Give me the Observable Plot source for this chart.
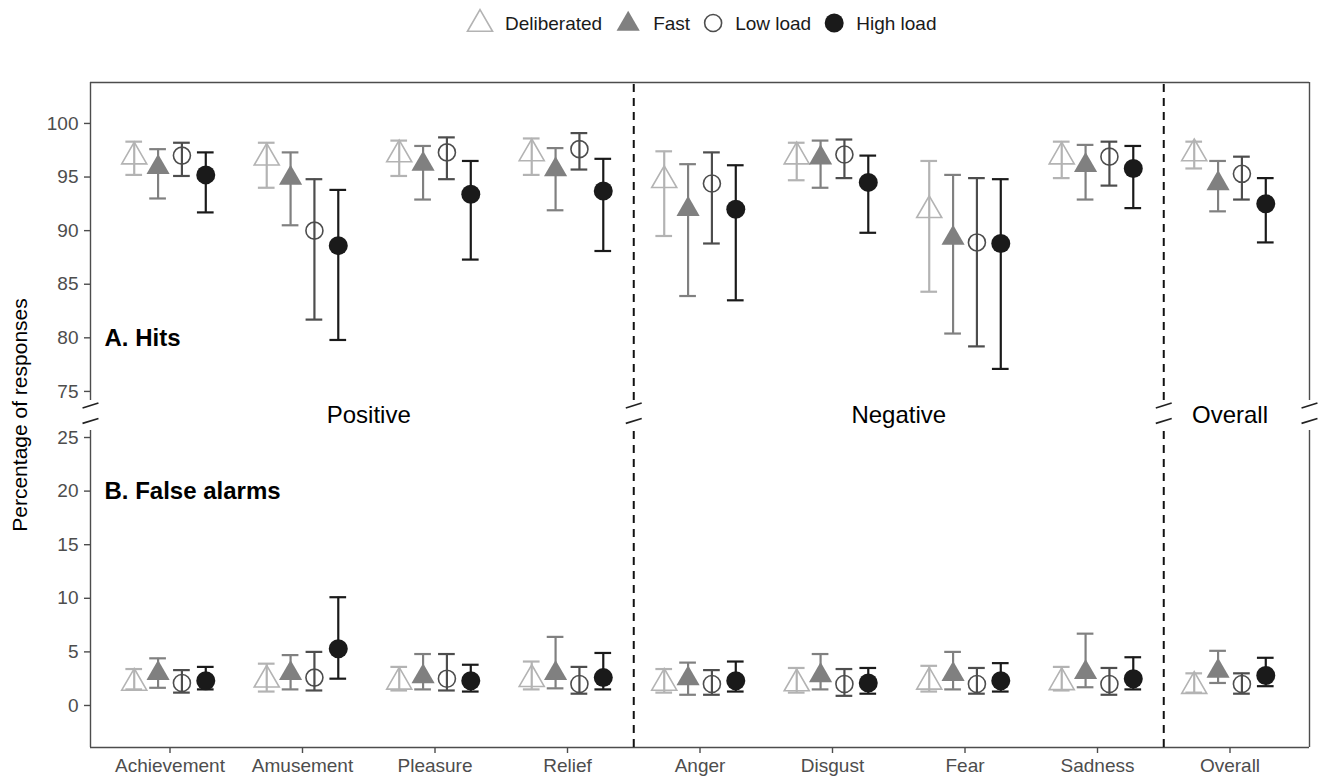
<!DOCTYPE html>
<html><head><meta charset="utf-8">
<script src="https://cdn.jsdelivr.net/npm/d3@7"></script>
<script src="https://cdn.jsdelivr.net/npm/@observablehq/plot@0.6"></script>
<style>
body{margin:0;background:#fff;font-family:"Liberation Sans",Arial,Helvetica,sans-serif;}
#wrap{position:relative;width:1324px;height:780px;overflow:hidden;}
#legend{position:absolute;left:0;top:0;}
#chart{position:absolute;left:0;top:45px;}
</style>
</head><body>
<div id="wrap"><div id="legend"></div><div id="chart"></div></div>
<script>
// ---------- data ----------
const categories = ["Achievement","Amusement","Pleasure","Relief","Anger","Disgust","Fear","Sadness","Overall"];
const categoryGroup = ["Positive","Positive","Positive","Positive","Negative","Negative","Negative","Negative","Overall"];
const seriesNames = ["Deliberated","Fast","Low load","High load"];
const seriesColors = ["#b3b3b3","#808080","#4d4d4d","#1a1a1a"];
const seriesSymbols = ["triangle","triangle","circle","circle"];
const seriesFilled = [false,true,false,true];

// A. Hits: [mean, lower, upper] per category
const hitsDeliberated = [[96.9,95.2,98.3],[96.8,94.0,98.2],[97.1,95.1,98.4],[97.2,95.2,98.6],[94.7,89.5,97.4],[96.9,94.7,98.2],[91.9,84.3,96.5],[96.9,94.9,98.3],[97.2,95.8,98.3]];
const hitsFast        = [[95.9,93.0,97.6],[94.9,90.5,97.3],[96.2,92.9,97.9],[95.7,91.9,97.7],[92.0,83.9,96.2],[96.8,94.0,98.4],[89.3,80.4,95.2],[96.1,92.9,98.0],[94.4,91.8,96.5]];
const hitsLowLoad     = [[97.0,95.1,98.2],[90.0,81.7,94.8],[97.3,94.8,98.7],[97.6,95.7,99.1],[94.4,88.8,97.3],[97.1,94.9,98.5],[88.9,79.2,94.9],[96.9,94.2,98.3],[95.3,92.9,96.9]];
const hitsHighLoad    = [[95.2,91.7,97.3],[88.6,79.8,93.8],[93.4,87.3,96.5],[93.7,88.1,96.7],[92.0,83.5,96.1],[94.5,89.8,97.0],[88.8,77.1,94.8],[95.8,92.1,97.9],[92.5,88.9,94.9]];

// B. False alarms: [mean, lower, upper] per category
const faDeliberated = [[2.1,1.5,3.4],[2.4,1.3,3.9],[2.2,1.4,3.6],[2.45,1.5,4.1],[2.1,1.2,3.4],[2.05,1.2,3.5],[2.2,1.3,3.7],[2.15,1.4,3.6],[1.8,1.2,3.0]];
const faFast        = [[3.0,1.65,4.4],[3.0,1.5,4.7],[2.7,1.5,4.8],[3.0,1.6,6.4],[2.5,1.0,4.0],[2.8,1.5,4.8],[2.9,1.5,5.0],[3.1,1.7,6.7],[3.2,2.1,5.1]];
const faLowLoad     = [[2.1,1.2,3.3],[2.6,1.4,5.0],[2.5,1.4,4.8],[2.0,1.1,3.6],[2.0,1.0,3.3],[2.0,0.9,3.4],[2.0,1.1,3.5],[2.0,1.0,3.5],[2.0,1.1,3.0]];
const faHighLoad    = [[2.3,1.5,3.6],[5.3,2.5,10.1],[2.3,1.3,3.8],[2.6,1.5,4.9],[2.3,1.3,4.1],[2.1,1.1,3.5],[2.3,1.3,3.95],[2.5,1.5,4.5],[2.8,1.8,4.45]];

const hitsTicks = [75,80,85,90,95,100];
const faTicks = [0,5,10,15,20,25];
const panelTitles = ["A. Hits","B. False alarms"];

// ---------- broken-axis layout ----------
const gap = 4.3;                         // visual gap between the two panels (in axis units)
const hitsShift = hitsTicks[0] - faTicks[faTicks.length-1] - gap; // hits value -> shared axis
const toHits = v => v - hitsShift;
const yMin = -3.92, yMax = toHits(103.82);
const gapTop = 28.45, gapBottom = 25.65;
const xMin = -0.6, xMax = categories.length - 1 + 0.6;
const dodge = s => (s - 1.5) * 0.18;
const capHalf = 0.063;

const hitsSeries = [hitsDeliberated, hitsFast, hitsLowLoad, hitsHighLoad];
const faSeries = [faDeliberated, faFast, faLowLoad, faHighLoad];

function rowsFor(s) {
  const out = [];
  hitsSeries[s].forEach(([m,lo,hi], i) => out.push({x: i + dodge(s), y: toHits(m), lo: toHits(lo), hi: toHits(hi)}));
  faSeries[s].forEach(([m,lo,hi], i) => out.push({x: i + dodge(s), y: m, lo, hi}));
  return out;
}

const marks = [];

// frame
marks.push(Plot.ruleY([yMax], {x1: xMin, x2: xMax, stroke: "#4d4d4d", strokeWidth: 1.4}));
marks.push(Plot.ruleY([yMin], {x1: xMin, x2: xMax, stroke: "#4d4d4d", strokeWidth: 1.4}));
marks.push(Plot.ruleX([xMin, xMax], {y1: gapTop, y2: yMax, stroke: "#4d4d4d", strokeWidth: 1.4}));
marks.push(Plot.ruleX([xMin, xMax], {y1: yMin, y2: gapBottom, stroke: "#4d4d4d", strokeWidth: 1.4}));

// group dividers
const dividers = [];
for (let i = 1; i < categories.length; i++) if (categoryGroup[i] !== categoryGroup[i-1]) dividers.push(i - 0.5);
marks.push(Plot.ruleX(dividers, {y1: gapTop, y2: yMax, stroke: "#111", strokeWidth: 2, strokeDasharray: "8,6"}));
marks.push(Plot.ruleX(dividers, {y1: yMin, y2: gapBottom, stroke: "#111", strokeWidth: 2, strokeDasharray: "8,6"}));

// break marks
const breakXs = [xMin, ...dividers, xMax];
const breakRows = [];
breakXs.forEach(x => { [27.98, 26.55].forEach(c => breakRows.push({x1: x - 0.06, x2: x + 0.06, y1: c - 0.23, y2: c + 0.23})); });
marks.push(Plot.link(breakRows, {x1: "x1", x2: "x2", y1: "y1", y2: "y2", stroke: "#222", strokeWidth: 1.6}));

// group labels
const groups = Array.from(new Set(categoryGroup));
const groupRows = groups.map(g => ({g, x: d3.mean(categories.map((c,i)=>i).filter(i => categoryGroup[i] === g))}));
marks.push(Plot.text(groupRows, {x: "x", y: 27.05, text: "g", fontSize: 24, fill: "#000", lineAnchor: "middle"}));

// panel titles
marks.push(Plot.text([panelTitles[0]], {x: xMin, y: toHits(80), dx: 14, text: d => d, textAnchor: "start", fontSize: 24, fontWeight: "bold", fill: "#000"}));
marks.push(Plot.text([panelTitles[1]], {x: xMin, y: 20, dx: 14, text: d => d, textAnchor: "start", fontSize: 24, fontWeight: "bold", fill: "#000"}));

// error bars
seriesNames.forEach((name, s) => {
  const rows = rowsFor(s);
  const col = seriesColors[s];
  marks.push(Plot.ruleX(rows, {x: "x", y1: "lo", y2: "hi", stroke: col, strokeWidth: 2.2}));
  marks.push(Plot.ruleY(rows, {y: "lo", x1: d => d.x - capHalf, x2: d => d.x + capHalf, stroke: col, strokeWidth: 2.2}));
  marks.push(Plot.ruleY(rows, {y: "hi", x1: d => d.x - capHalf, x2: d => d.x + capHalf, stroke: col, strokeWidth: 2.2}));
});
// points
seriesNames.forEach((name, s) => {
  const rows = rowsFor(s);
  const col = seriesColors[s];
  const tri = seriesSymbols[s] === "triangle";
  const r = tri ? (seriesFilled[s] ? 8.6 : 9.3) : (seriesFilled[s] ? 9.5 : 8.5);
  marks.push(Plot.dot(rows, {x: "x", y: "y", symbol: seriesSymbols[s], r,
    fill: seriesFilled[s] ? col : "white", fillOpacity: seriesFilled[s] ? 1 : 0,
    stroke: seriesFilled[s] ? "none" : col, strokeWidth: 1.6}));
});

// axes
const tickPos = [...faTicks, ...hitsTicks.map(toHits)];
const tickLab = new Map(tickPos.map((p, i) => [p, String(i < faTicks.length ? faTicks[i] : hitsTicks[i - faTicks.length])]));
marks.push(Plot.axisY({ticks: tickPos, tickFormat: d => tickLab.get(d), tickSize: 6, tickPadding: 6, fontSize: 19, label: null, strokeWidth: 1.4}));
marks.push(Plot.axisX({ticks: categories.map((c,i)=>i), tickFormat: i => categories[i], tickSize: 6, tickPadding: 5, fontSize: 19, label: null, strokeWidth: 1.4}));
marks.push(Plot.text(["Percentage of responses"], {x: xMin, y: (yMin + yMax) / 2, rotate: -90, dx: -70, text: d => d, textAnchor: "middle", fontSize: 21, fill: "#000"}));

const chart = Plot.plot({
  width: 1324, height: 735,
  marginTop: 37, marginBottom: 33, marginLeft: 90, marginRight: 15,
  x: {type: "linear", domain: [xMin, xMax], label: null},
  y: {type: "linear", domain: [yMin, yMax], label: null},
  style: {fontFamily: "'Liberation Sans', Arial, Helvetica, sans-serif", color: "#4d4d4d", background: "#fff", overflow: "visible"},
  marks
});
document.getElementById("chart").appendChild(chart);

// ---------- legend ----------
const lw = 1324, lh = 45;
const lsvg = d3.select("#legend").append("svg").attr("width", lw).attr("height", lh)
  .style("font-family", "'Liberation Sans', Arial, Helvetica, sans-serif");
let cx = 467;
const cy = 23;
seriesNames.forEach((name, s) => {
  const tri = seriesSymbols[s] === "triangle";
  const r = tri ? (seriesFilled[s] ? 8.6 : 9.3) : (seriesFilled[s] ? 9.5 : 8.5);
  const sym = d3.symbol(tri ? d3.symbolTriangle : d3.symbolCircle, Math.PI * r * r);
  const w = tri ? 26 : 20;
  lsvg.append("path").attr("d", sym()).attr("transform", `translate(${cx + w/2},${cy + (tri ? 1 : 0)})`)
    .attr("fill", seriesFilled[s] ? seriesColors[s] : "none")
    .attr("stroke", seriesFilled[s] ? "none" : seriesColors[s]).attr("stroke-width", 1.6);
  cx += w + 12;
  const t = lsvg.append("text").attr("x", cx).attr("y", cy).attr("dy", "0.35em")
    .attr("font-size", 19).attr("fill", "#1a1a1a").text(name);
  cx += t.node().getComputedTextLength() + 13;
});
</script>
</body></html>
